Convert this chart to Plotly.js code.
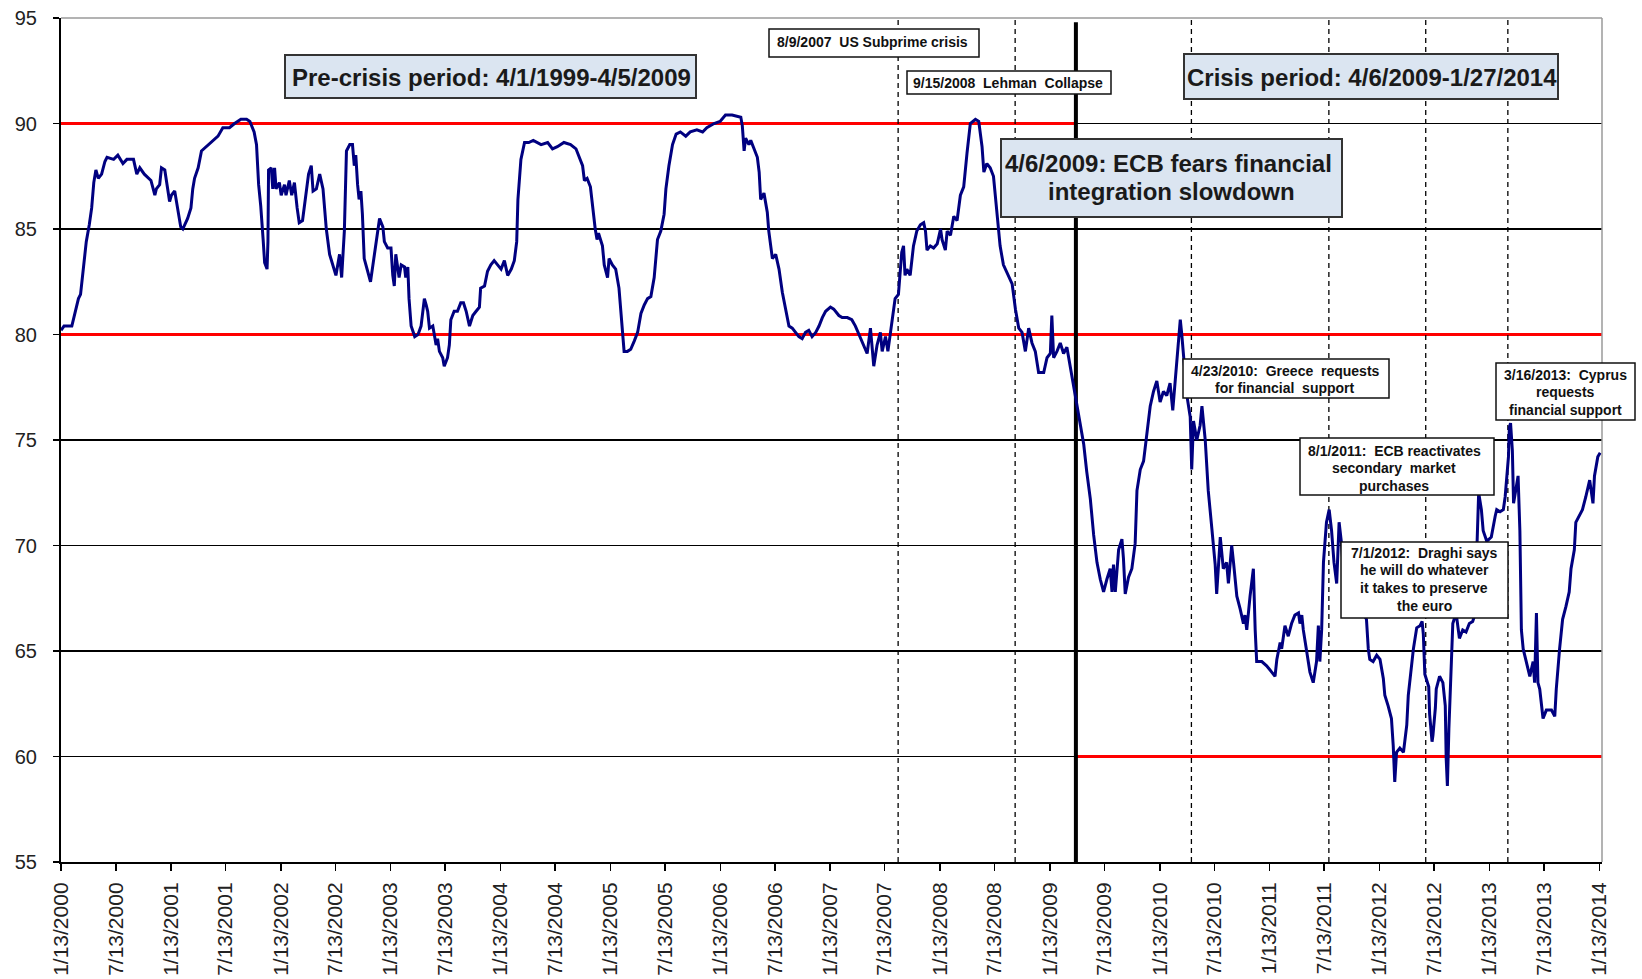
<!DOCTYPE html>
<html>
<head>
<meta charset="utf-8">
<script src="https://cdn.plot.ly/plotly-3.0.1.min.js"></script>
<style>html,body{margin:0;padding:0;background:#fff;}#chart{width:1642px;height:979px;}</style>
</head>
<body>
<div id="chart"></div>
<script>
// ---------- DATA ----------
// time of each point, in years since 1/13/2000
const yearsSinceStart = [
0.00,0.03,0.10,0.13,0.16,0.18,0.20,0.23,0.26,0.28,0.30,0.32,0.34,0.37,0.40,0.42,0.48,0.52,0.565,0.60,0.66,0.69,0.72,0.76,0.82,0.855,0.87,0.90,0.915,0.945,0.99,1.005,1.035,1.065,1.09,1.11,1.155,1.185,1.20,1.218,1.25,1.28,1.32,1.37,1.43,1.475,1.535,1.58,1.64,1.69,1.72,1.76,1.78,1.80,1.82,1.84,1.855,1.876,1.885,1.89,1.915,1.93,1.945,1.96,1.99,2.005,2.036,2.05,2.08,2.10,2.127,2.15,2.17,2.20,2.233,2.255,2.28,2.295,2.325,2.355,2.385,2.415,2.445,2.475,2.505,2.536,2.557,2.58,2.60,2.63,
2.655,2.67,2.685,2.70,2.715,2.73,2.745,2.76,2.79,2.82,2.84,2.87,2.90,2.93,2.945,2.976,3.006,3.02,3.036,3.05,3.066,3.08,3.097,3.127,3.14,3.157,3.17,3.188,3.22,3.25,3.28,3.31,3.325,3.34,3.355,3.385,3.40,3.415,3.43,3.445,3.476,3.49,3.52,3.536,3.55,3.58,3.61,3.64,3.665,3.688,3.72,3.75,3.78,3.81,3.82,3.855,3.885,3.915,3.945,3.976,4.006,4.036,4.066,4.10,4.127,4.15,4.16,4.188,4.22,4.26,4.30,4.37,4.43,4.476,4.52,4.58,4.64,4.688,4.72,4.75,4.764,4.79,4.82,4.835,4.85,4.865,4.88,4.895,4.93,4.945,4.976,4.99,5.02,5.05,5.08,5.11,5.127,5.157,5.188,5.22,5.25,5.28,5.31,
5.34,5.37,5.40,5.43,5.46,5.49,5.506,5.52,5.536,5.567,5.60,5.64,5.688,5.73,5.79,5.84,5.88,5.945,6.00,6.05,6.11,6.188,6.203,6.218,6.233,6.264,6.279,6.309,6.339,6.355,6.37,6.40,6.43,6.445,6.46,6.476,6.506,6.536,6.567,6.597,6.627,6.658,6.688,6.718,6.748,6.779,6.809,6.839,6.87,6.90,6.93,6.96,7.006,7.036,7.082,7.112,7.158,7.20,7.233,7.264,7.294,7.324,7.339,7.37,7.385,7.40,7.43,7.46,7.476,7.506,7.527,7.552,7.576,7.594,7.624,7.655,7.67,7.685,7.70,7.73,7.76,7.79,7.824,7.855,7.87,
7.885,7.915,7.945,7.976,8.006,8.021,8.052,8.067,8.097,8.127,8.158,8.188,8.218,8.248,8.279,8.324,8.355,8.385,8.40,8.43,8.46,8.49,8.52,8.55,8.58,8.627,8.658,8.688,8.718,8.748,8.779,8.809,8.839,8.87,8.90,8.945,8.976,9.006,9.021,9.036,9.067,9.097,9.127,9.158,9.188,9.218,9.248,9.279,9.309,9.339,9.37,9.40,9.43,9.46,9.49,9.52,9.552,9.567,9.582,9.597,9.627,9.658,9.673,9.688,9.718,9.748,9.779,9.794,9.824,9.855,9.885,9.915,9.945,9.976,10.006,10.036,10.067,10.097,10.121,10.142,10.164,10.188,10.203,10.218,10.248,10.279,10.294,10.309,10.339,10.37,10.385,10.415,10.445,10.476,10.506,10.521,10.536,10.552,10.582,10.612,10.627,10.658,10.673,10.703,10.733,10.764,10.779,10.794,10.824,10.855,10.87,10.885,10.93,10.976,11.021,11.052,11.067,11.097,11.112,11.142,11.173,11.203,11.233,11.264,11.279,11.294,11.309,11.339,11.37,11.40,11.43,11.445,11.46,11.476,11.491,11.521,11.545,11.567,11.588,11.612,11.636,11.658,11.673,11.703,11.74,11.80,11.85,11.885,11.90,11.915,11.945,11.976,12.006,12.036,12.052,12.082,12.112,12.127,12.142,12.158,12.188,
12.22,12.25,12.265,12.28,12.31,12.34,12.37,12.39,12.40,12.415,12.45,12.46,12.48,12.49,12.51,12.52,12.55,12.58,12.60,12.61,12.62,12.635,12.655,12.67,12.70,12.73,12.76,12.79,12.82,12.85,12.87,12.89,12.905,12.93,12.945,12.98,13.02,13.055,13.07,13.10,13.13,13.145,13.16,13.176,13.185,13.194,13.212,13.224,13.242,13.264,13.279,13.294,13.309,13.339,13.37,13.40,13.415,13.43,13.445,13.46,13.49,13.52,13.567,13.597,13.612,13.642,13.67,13.70,13.73,13.745,13.776,13.79,13.82,13.85,13.88,13.915,13.945,13.96,13.99,14.01
];
const indexValues = [
80.2,80.4,80.4,81.1,81.7,81.9,83.0,84.4,85.2,86.0,87.2,87.8,87.4,87.6,88.2,88.4,88.3,88.5,88.1,88.3,88.3,87.6,87.9,87.6,87.3,86.6,86.9,87.1,87.9,87.8,86.3,86.6,86.8,86.0,85.1,85.0,85.5,86.0,86.9,87.4,87.9,88.7,88.9,89.1,89.4,89.8,89.8,90.0,90.2,90.2,90.1,89.6,89.0,87.1,86.1,84.5,83.4,83.1,84.4,87.8,87.9,86.9,87.9,86.9,87.2,86.6,87.1,86.6,87.3,86.6,87.2,86.0,85.3,85.4,86.9,87.6,88.0,86.8,86.9,87.6,86.9,85.0,83.8,83.3,82.8,83.8,82.7,84.9,88.7,89.0,
89.0,88.0,88.5,87.1,86.4,86.8,85.7,83.6,83.0,82.5,83.3,84.5,85.5,85.1,84.4,84.1,84.1,82.8,82.3,83.8,83.3,82.7,83.3,83.2,82.7,83.2,81.7,80.4,79.9,80.0,80.4,81.7,81.4,81.1,80.3,80.4,80.0,79.5,79.8,79.2,78.9,78.5,78.9,79.5,80.7,81.1,81.1,81.5,81.5,81.1,80.4,80.9,81.1,81.3,82.2,82.3,83.0,83.3,83.5,83.3,83.1,83.5,82.8,83.1,83.5,84.4,86.4,88.3,89.1,89.1,89.2,89.0,89.1,88.8,88.9,89.1,89.0,88.8,88.4,88.0,87.3,87.4,87.0,86.4,85.5,85.0,84.5,84.8,84.2,83.3,82.7,83.6,83.3,83.1,82.2,80.4,79.2,79.2,79.3,79.7,80.1,81.0,81.4,
81.7,81.8,82.7,84.5,84.9,85.7,86.9,87.6,88.0,89.0,89.5,89.6,89.4,89.6,89.7,89.6,89.8,90.0,90.1,90.4,90.4,90.3,89.9,88.7,89.3,89.0,89.2,88.8,88.4,87.7,86.4,86.7,85.8,84.9,84.2,83.6,83.8,83.1,82.0,81.2,80.4,80.3,80.1,79.9,79.8,80.1,80.2,79.9,80.1,80.4,80.8,81.1,81.3,81.2,80.9,80.8,80.8,80.7,80.4,80.0,79.7,79.3,79.1,80.3,79.3,78.5,79.5,80.1,79.2,79.9,79.2,80.1,81.1,81.7,81.9,83.9,84.2,82.8,83.1,82.8,84.2,84.9,85.2,85.3,84.9,
84.0,84.2,84.1,84.3,85.0,84.5,84.0,84.9,84.7,85.6,85.4,86.6,87.0,88.6,90.0,90.2,90.1,88.9,87.7,88.1,87.9,87.5,85.9,84.2,83.3,82.8,82.4,81.2,80.3,80.1,79.2,80.3,79.6,79.2,78.2,78.2,78.9,79.1,80.9,78.9,79.2,79.6,79.1,79.4,78.5,77.5,76.6,75.7,74.8,73.5,72.2,70.5,69.2,68.4,67.8,68.4,68.9,67.8,69.1,67.8,69.8,70.3,69.4,67.7,68.5,68.9,70.1,72.6,73.6,74.0,75.4,76.6,77.3,77.8,76.8,77.3,77.1,77.7,76.4,77.8,78.9,80.7,80.0,78.9,77.1,76.1,73.6,75.9,75.0,75.7,76.6,75.0,72.6,70.8,69.1,67.7,69.2,70.4,68.9,69.2,68.2,70.0,69.2,67.6,67.0,66.3,66.7,66.0,67.6,68.9,66.0,64.5,64.5,64.3,64.0,63.8,64.6,65.4,65.1,66.2,65.7,66.3,66.7,66.8,66.3,66.7,66.0,65.1,64.0,63.5,64.5,66.2,64.5,66.0,69.2,71.1,71.7,70.7,69.2,68.2,71.1,70.1,68.9,68.1,67.5,67.0,66.8,66.5,65.1,64.6,64.5,64.8,64.6,63.7,62.9,62.4,61.8,60.5,58.8,60.2,60.4,
60.2,61.5,62.9,63.7,65.1,66.1,66.2,66.4,65.8,63.9,63.3,62.0,60.7,61.0,62.3,63.2,63.8,63.5,62.4,59.9,58.6,61.3,64.5,66.3,66.8,65.6,66.0,65.9,66.3,66.4,66.7,70.0,72.5,71.7,70.7,70.2,70.4,71.4,71.7,71.6,71.7,72.3,73.3,74.2,75.6,75.8,74.5,72.0,72.6,73.3,70.7,66.0,65.1,64.5,63.8,64.5,63.5,66.8,63.5,63.2,61.8,62.2,62.2,61.9,63.2,65.1,66.5,67.1,67.8,68.9,69.8,71.1,71.4,71.7,72.3,73.1,72.0,73.3,74.2,74.4
];

const tickLabels = ['1/13/2000','7/13/2000','1/13/2001','7/13/2001','1/13/2002','7/13/2002','1/13/2003','7/13/2003','1/13/2004','7/13/2004','1/13/2005','7/13/2005','1/13/2006','7/13/2006','1/13/2007','7/13/2007','1/13/2008','7/13/2008','1/13/2009','7/13/2009','1/13/2010','7/13/2010','1/13/2011','7/13/2011','1/13/2012','7/13/2012','1/13/2013','7/13/2013','1/13/2014'];
const yTicks = [55,60,65,70,75,80,85,90,95];

// reference levels (red) and the period each covers
const redLevels = [90, 80, 60];
const redFrom = ['2000-01-13','2000-01-13','2009-04-09'];
const redTo   = ['2009-04-09','2014-01-22','2014-01-22'];

// event marker lines, where they are drawn in the picture
const eventDashedDates = ['2007-08-27','2008-09-19','2010-04-28','2011-07-29','2012-06-15','2013-03-15'];
const crisisStartDate = '2009-04-09';

// ---------- helpers ----------
const START_MS = Date.UTC(2000,0,13);
function yearsToDate(t){ return new Date(START_MS + t*365.2425*864e5).toISOString().slice(0,10); }
function labelToDate(s){ const p=s.split('/'); return p[2]+'-'+String(p[0]).padStart(2,'0')+'-'+String(p[1]).padStart(2,'0'); }
const PL=61, PR=1602, PT=18, PB=862;
const px = v => (v-PL)/(PR-PL);
const py = v => (PB-v)/(PB-PT);

const xDates = yearsSinceStart.map(yearsToDate);

const trace = {
  x: xDates, y: indexValues, type:'scatter', mode:'lines',
  line:{color:'#000080', width:3}, hoverinfo:'x+y', showlegend:false
};

const shapes = [];
redLevels.forEach((lv,i)=>{
  shapes.push({type:'line', xref:'x', yref:'y', x0:redFrom[i], x1:redTo[i], y0:lv, y1:lv,
    line:{color:'#ff0000', width:3}, layer:'between'});
});
eventDashedDates.forEach(d=>{
  shapes.push({type:'line', xref:'x', yref:'y', x0:d, x1:d, y0:55, y1:95,
    line:{color:'#000', width:1.3, dash:'5px,4px'}, layer:'between'});
});
shapes.push({type:'line', xref:'x', yref:'y', x0:crisisStartDate, x1:crisisStartDate, y0:55, y1:94.8,
  line:{color:'#000', width:4}, layer:'between'});
// gray top and right border
shapes.push({type:'line', xref:'paper', yref:'paper', x0:0, x1:1, y0:1, y1:1, line:{color:'#9a9a9a', width:1.5}, layer:'above'});
shapes.push({type:'line', xref:'paper', yref:'paper', x0:1, x1:1, y0:0, y1:1, line:{color:'#9a9a9a', width:1.5}, layer:'above'});

// ---------- text boxes ----------
const bigBoxes = [
  {b:[285,696,55,98], lines:[['Pre-crisis period: 4/1/1999-4/5/2009',491,78]]},
  {b:[1184,1558,54,99], lines:[['Crisis period: 4/6/2009-1/27/2014',1372,78]]},
  {b:[1001,1342,139,217], lines:[['4/6/2009: ECB fears financial',1168,164],['integration slowdown',1171,191]]}
];
const smallBoxes = [
  {b:[769,979,29,57], lines:[['8/9/2007\u00a0 US Subprime crisis',872,42]]},
  {b:[907,1111,71,94], lines:[['9/15/2008\u00a0 Lehman\u00a0 Collapse',1008,83]]},
  {b:[1183,1389,359,398], lines:[['4/23/2010:\u00a0 Greece\u00a0 requests',1285,371],['for financial\u00a0 support',1285,388]]},
  {b:[1300,1494,438,495], lines:[['8/1/2011:\u00a0 ECB reactivates',1394,451],['secondary\u00a0 market',1394,468],['purchases',1394,486]]},
  {b:[1341,1508,542,618], lines:[['7/1/2012:\u00a0 Draghi says',1424,553],['he will do whatever',1424,570],['it takes to preserve',1424,588],['the euro',1424,606]]},
  {b:[1496,1635,363,420], lines:[['3/16/2013:\u00a0 Cyprus',1565,375],['requests',1565,392],['financial support',1565,410]]}
];
const annotations = [];
function addBox(box, fill, border, bw, size, color){
  const [x0,x1,y0,y1] = box.b;
  shapes.push({type:'rect', xref:'paper', yref:'paper', x0:px(x0), x1:px(x1), y0:py(y1), y1:py(y0),
    fillcolor:fill, line:{color:border, width:bw}, layer:'above'});
  box.lines.forEach(l=>{
    annotations.push({xref:'paper', yref:'paper', x:px(l[1]), y:py(l[2]), xanchor:'center', yanchor:'middle',
      text:'<b>'+l[0]+'</b>', showarrow:false, font:{size:size, color:color, family:'Liberation Sans, Arial, sans-serif'}});
  });
}
bigBoxes.forEach(b=>addBox(b,'#dbe5f1','#333',2,24,'#1a1a1a'));
smallBoxes.forEach(b=>addBox(b,'#ffffff','#111',1.5,14,'#111'));

const layout = {
  width:1642, height:979,
  margin:{l:PL, r:1642-PR, t:PT, b:979-PB, pad:0},
  paper_bgcolor:'#fff', plot_bgcolor:'#fff',
  font:{family:'Liberation Sans, Arial, sans-serif', color:'#222'},
  showlegend:false,
  xaxis:{
    type:'date', range:['2000-01-13','2014-01-22'],
    tickmode:'array', tickvals:tickLabels.map(labelToDate), ticktext:tickLabels,
    tickangle:-90, ticks:'outside', ticklen:7, tickwidth:1.5, tickcolor:'#000',
    showline:true, linecolor:'#000', linewidth:2, showgrid:false, zeroline:false,
    tickfont:{size:21, color:'#222'}, ticklabelstandoff:3
  },
  yaxis:{
    range:[55,95], tickmode:'array', tickvals:yTicks, ticktext:yTicks.map(String),
    ticks:'outside', ticklen:6, tickwidth:1.5, tickcolor:'#000',
    showline:true, linecolor:'#000', linewidth:2,
    showgrid:true, gridcolor:'#000', gridwidth:1.2, zeroline:false,
    tickfont:{size:20, color:'#222'}, ticklabelstandoff:12
  },
  shapes:shapes, annotations:annotations
};
Plotly.newPlot('chart',[trace],layout,{displayModeBar:false, staticPlot:true});
</script>
</body>
</html>
